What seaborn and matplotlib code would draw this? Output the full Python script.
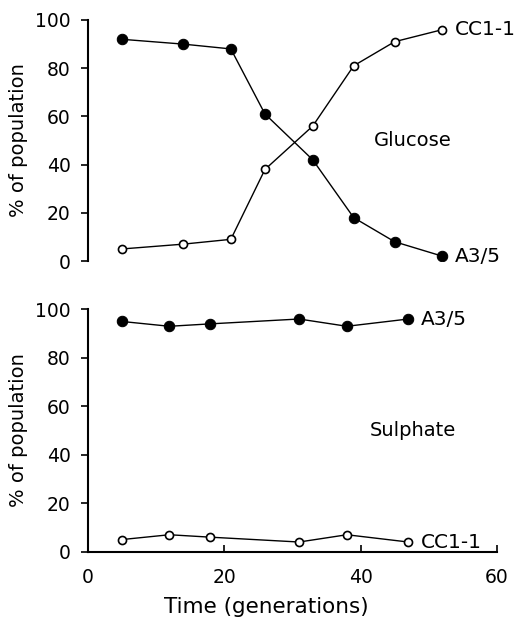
import matplotlib
matplotlib.use("Agg")
import matplotlib.pyplot as plt
import seaborn as sns
import pandas as pd

sns.set_theme(style="ticks")
plt.rcParams["font.family"] = ["DejaVu Sans"]

# Glucose-limited culture
glu_time = [5, 14, 21, 26, 33, 39, 45, 52]
glu_a35 = [92, 90, 88, 61, 42, 18, 8, 2]
glu_cc11 = [5, 7, 9, 38, 56, 81, 91, 96]

# Sulphate-limited culture
sul_time = [5, 12, 18, 31, 38, 47]
sul_a35 = [95, 93, 94, 96, 93, 96]
sul_cc11 = [5, 7, 6, 4, 7, 4]

y_ticks = [0, 20, 40, 60, 80, 100]
x_ticks = [0, 20, 40, 60]

fig = plt.figure(figsize=(5.25, 6.19), dpi=100)
ax_top = fig.add_axes([0.1667, 0.5783, 0.78, 0.3894])
ax_bot = fig.add_axes([0.1667, 0.1087, 0.78, 0.3916])

def draw(ax, t, a35, cc11, medium):
    df = pd.DataFrame({"t": t, "a35": a35, "cc11": cc11})
    sns.lineplot(data=df, x="t", y="a35", ax=ax, color="black", lw=1.0,
                 marker="o", markersize=7.5, markerfacecolor="black",
                 markeredgecolor="black", sort=False)
    sns.lineplot(data=df, x="t", y="cc11", ax=ax, color="black", lw=1.0,
                 marker="o", markersize=5.8, markerfacecolor="white",
                 markeredgecolor="black", markeredgewidth=1.2, sort=False)
    ax.set_xlim(0, 60)
    ax.set_ylim(0, 100)
    ax.set_yticks(y_ticks)
    ax.tick_params(axis="y", direction="out", length=5, width=1.2,
                   labelsize=13.5, colors="black", pad=7)
    ax.set_ylabel("% of population", fontsize=14, color="black")
    ax.yaxis.set_label_coords(-0.145, 0.5)
    for s in ("top", "right"):
        ax.spines[s].set_visible(False)
    ax.spines["left"].set_linewidth(1.5)
    ax.spines["left"].set_color("black")
    ax.text(t[-1] + 1.8, cc11[-1], "CC1-1", fontsize=14.5, va="center",
            ha="left", color="black")
    ax.text(t[-1] + 1.8, a35[-1], "A3/5", fontsize=14.5, va="center",
            ha="left", color="black")
    ax.text(47.6, 50, medium, fontsize=14, ha="center", va="center",
            color="black")

draw(ax_top, glu_time, glu_a35, glu_cc11, "Glucose")
draw(ax_bot, sul_time, sul_a35, sul_cc11, "Sulphate")

# top panel carries no x axis
ax_top.spines["bottom"].set_visible(False)
ax_top.set_xticks([])
ax_top.set_xlabel("")

ax_bot.spines["bottom"].set_linewidth(1.5)
ax_bot.spines["bottom"].set_color("black")
ax_bot.set_xticks(x_ticks)
ax_bot.tick_params(axis="x", direction="in", length=5, width=1.2,
                   labelsize=13.5, colors="black", pad=12)
ax_bot.set_xlabel("Time (generations)", fontsize=15.5, color="black")
ax_bot.xaxis.set_label_coords(0.436, -0.185)

fig.savefig("out.png", dpi=100)
